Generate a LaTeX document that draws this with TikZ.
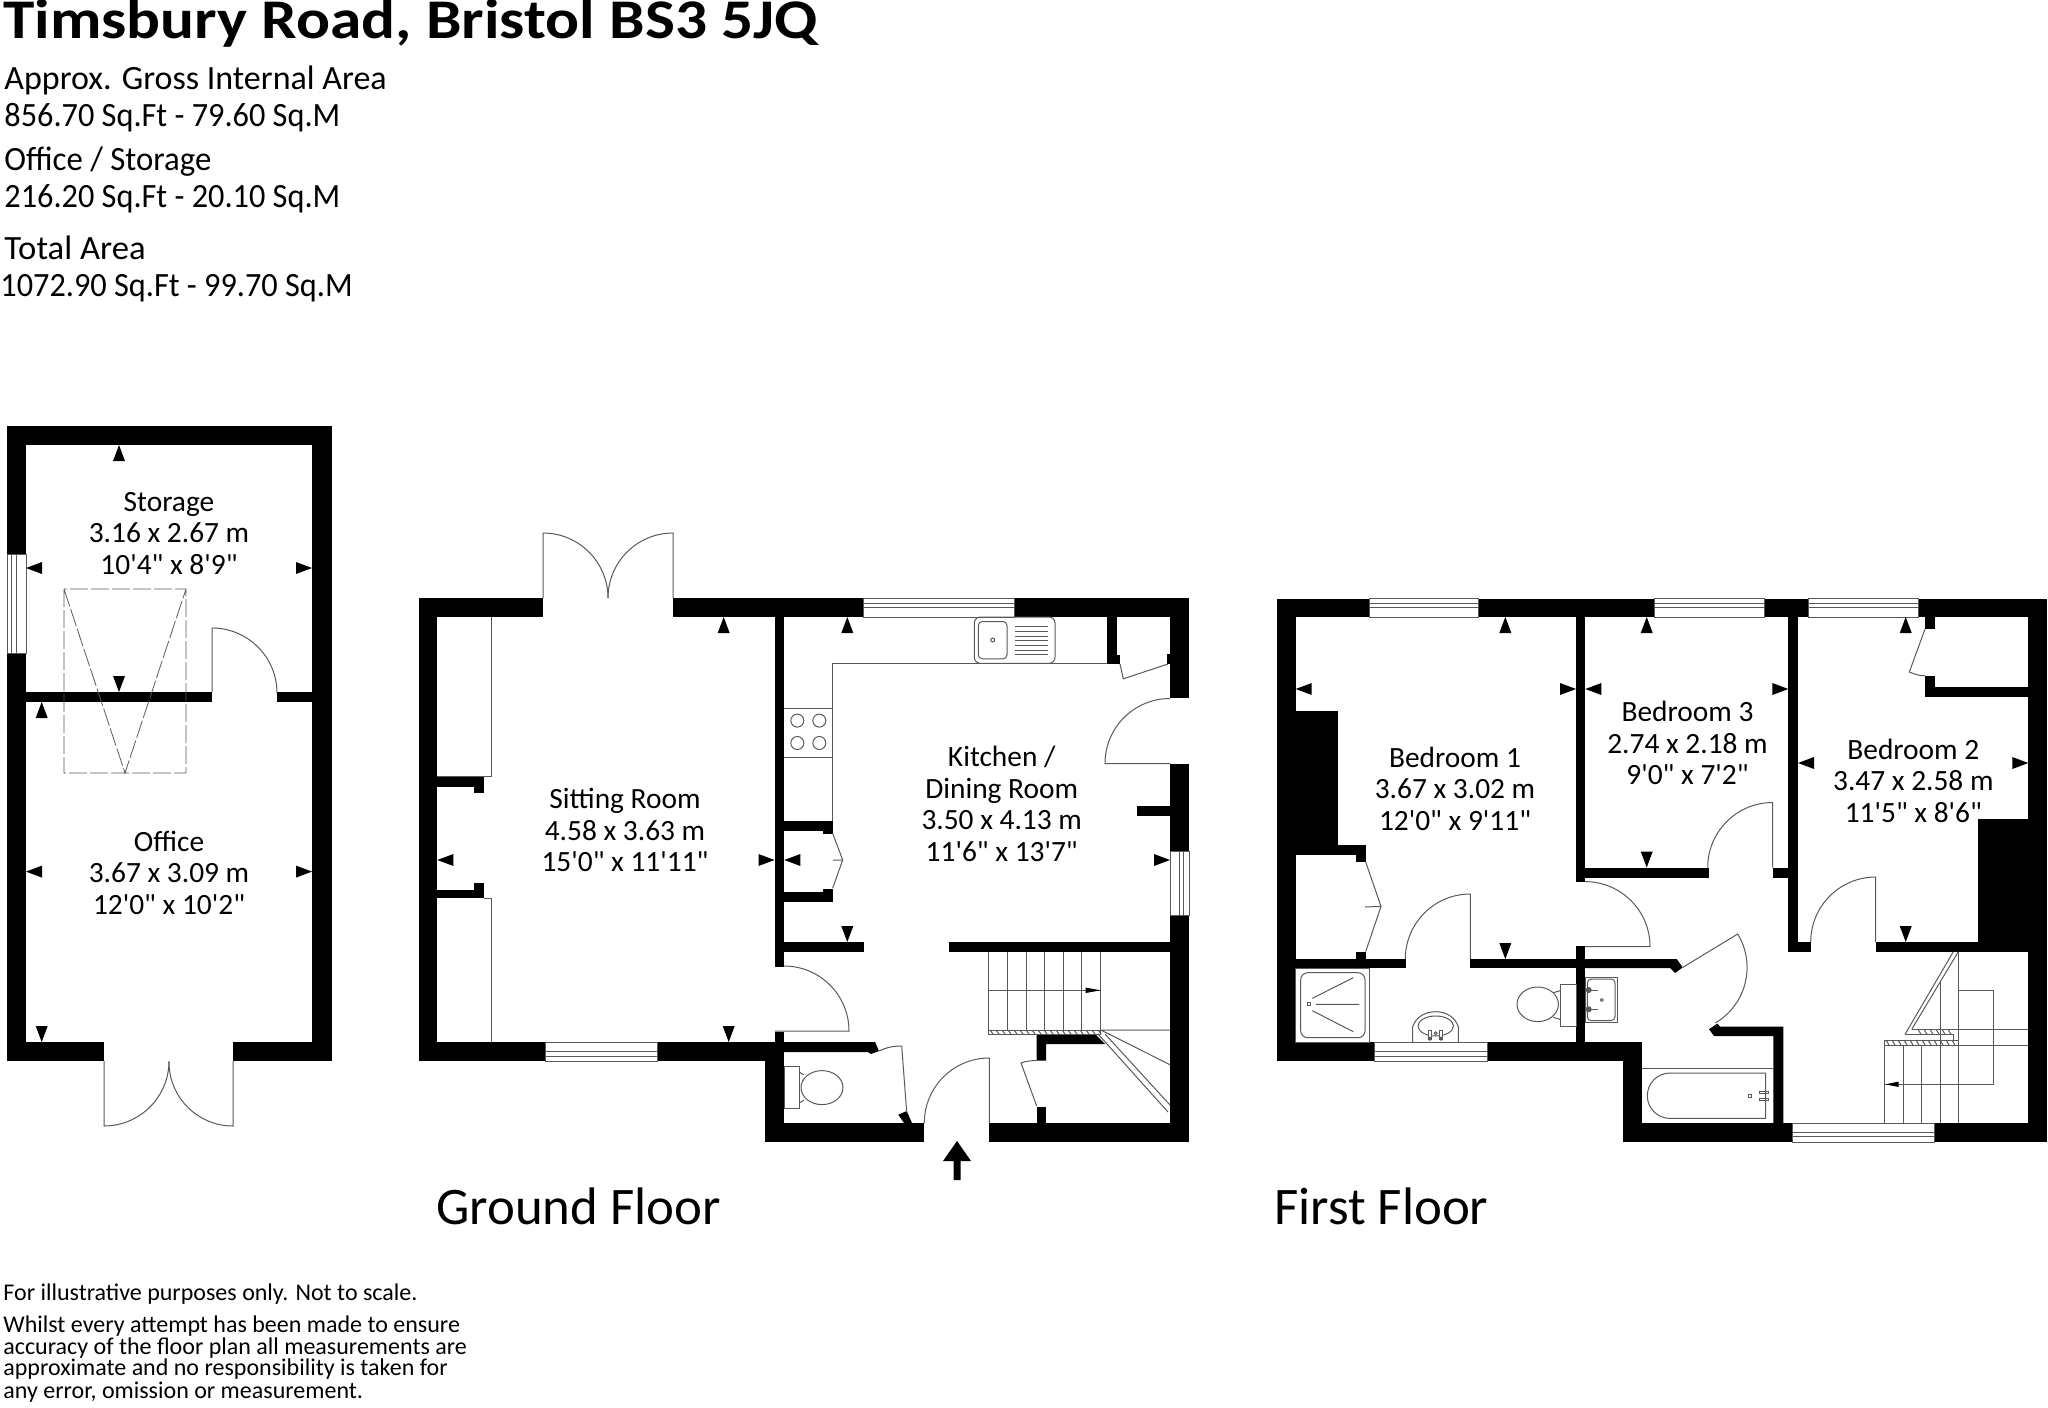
\documentclass[tikz,border=0pt]{standalone}
\usepackage{fontspec}
\setmainfont{Carlito}[Ligatures=TeXOff]
\definecolor{linegray}{gray}{0.35}
\tikzset{
  wall/.style={fill=black},
  fitting/.style={draw=linegray,line width=0.5pt},
  dim/.style={fill=black},
  roomlabel/.style={inner sep=0pt,align=center,font=\fontsize{14.7}{15.75}\selectfont},
  floorlabel/.style={inner sep=0pt,anchor=base west,font=\fontsize{26.4}{30}\selectfont},
  infolabel/.style={inner sep=0pt,anchor=base west,font=\fontsize{17}{20}\selectfont},
  notelabel/.style={inner sep=0pt,anchor=base west,font=\fontsize{12}{15}\selectfont}
}
\begin{document}
\begin{tikzpicture}[x=0.5pt,y=-0.5pt]
\useasboundingbox (0,0) rectangle (2048,1407);

% Heading
\node[inner sep=0pt,anchor=base west,font=\fontsize{28}{32}\selectfont\bfseries] (title) at (3,39) {\scalebox{1.13}[1]{Timsbury Road, Bristol BS3 5JQ}};
\node[infolabel] (grosshead) at (4,89.5) {Approx. Gross Internal Area};
\node[infolabel] (grossarea) at (4,126.5) {\scalebox{.95}[1]{856.70 Sq.Ft - 79.60 Sq.M}};
\node[infolabel] (officehead) at (4,170.5) {\scalebox{.965}[1]{Office / Storage}};
\node[infolabel] (officearea) at (4,207) {\scalebox{.95}[1]{216.20 Sq.Ft - 20.10 Sq.M}};
\node[infolabel] (totalhead) at (4,259) {\scalebox{1.02}[1]{Total Area}};
\node[infolabel] (totalarea) at (0,296) {\scalebox{.95}[1]{1072.90 Sq.Ft - 99.70 Sq.M}};

% Walls
\foreach \a/\b/\c/\d in {7/426/332/445,7/426/26/554.5,7/653.5/26/1061,312/426/332/1061,26/692/212/702,277/692/312/702,7/1042/104/1061,233/1042/332/1061,
  418.7/598/543/617,673.3/598/863.7/617,1014.7/598/1189.3/617,418.7/598/437.3/1061,418.7/1042/545/1061,657.3/1042/784.3/1061,
  774.5/617/784.3/966.7,774.5/1031.5/784.3/1062,765/1052/784.3/1142.4,765/1123/924/1142.4,989.3/1123/1189.3/1142.4,
  1170/598/1189.3/698.4,1170/763.5/1189.3/851,1170/915/1189.3/1142.4,
  784/821/832.7/831,823/831/832.7/833.5,784/891.5/832.7/902,823/889/832.7/891.5,784/942/864.3/952,949/942/1170/952,
  1137.3/805.7/1170/815.7,1107.3/617/1117.3/664,1117.3/655/1120/664,1166.7/653.6/1170/664,1036.7/1107/1046/1123,
  437/776.3/484.3/786.7,474/786.7/484.3/792.7,474/882.7/484.3/890,437/890/484.3/898.4,
  1276.7/598.5/1369/617,1478.3/598.5/1654/617,1764.7/598.5/1808.7/617,1918.7/598.5/2047.3/617,
  1276.7/598.5/1295.7/1061,1276.7/1042/1374.3/1061,1487.3/1042/1642/1061,1623.3/1042/1642/1142.4,
  1623.3/1123/1792.3/1142.4,1934.3/1123/2047.3/1142.4,2028.3/598.5/2047.3/1142.4,
  1295.7/711.4/1337.7/845.3,1295.7/845.3/1365.7/854.6,1356/854.6/1365.7/862,1356/951.5/1365.7/959,
  1295/959/1405.7/968,1470.3/959/1585/968,1576/617/1585.3/881.6,1576/946.3/1585.3/1042,
  1585/867.5/1708.7/878,1772.7/867.5/1788.3/878,1788.3/617/1798/952,1788.3/942/1810.7/952,1875.7/942/2028/952,
  1978/819.4/2028.3/942,1925/617/1935/629,1925/675.8/1935/696.6,1935/687/2028/696.6}
  \fill[wall] (\a,\b) rectangle (\c,\d);
% angled wall ends
\fill[wall] (784,1042) -- (875,1042) -- (879,1051) -- (871,1054) -- (868,1052) -- (784,1052) -- cycle;
\fill[wall] (898.3,1114.7) -- (906.7,1111) -- (912,1123) -- (904,1123) -- cycle;
\fill[wall] (1036.7,1034) -- (1095,1034) -- (1105,1044) -- (1046,1044) -- (1046,1060.6) -- (1036.7,1060.6) -- cycle;
\fill[wall] (1585,959) -- (1676.7,959) -- (1682.7,967.4) -- (1675,973) -- (1670,968) -- (1585,968) -- cycle;
\fill[wall] (1717.3,1023.6) -- (1709,1029.2) -- (1714,1036) -- (1773.3,1036) -- (1773.3,1122.8) -- (1783.3,1122.8) -- (1783.3,1026.6) -- (1720,1026.6) -- cycle;

% Windows
\foreach \a/\c in {545/657.3,1374.3/1487.3}
  \draw[fitting] (\a,1042) rectangle (\c,1061) (\a,1051.5) -- (\c,1051.5) (\a,1056) -- (\c,1056);
\draw[fitting] (1792.3,1123) rectangle (1934.3,1142.4) (1792.3,1132) -- (1934.3,1132) (1792.3,1136.5) -- (1934.3,1136.5);
\foreach \a/\c in {863.7/1014.7,1369/1478.3,1654/1764.7,1808.7/1918.7}
  \draw[fitting] (\a,598.5) rectangle (\c,617) (\a,603.7) -- (\c,603.7) (\a,607.8) -- (\c,607.8);
\draw[fitting] (7.3,554.5) rectangle (26,653.5) (11.7,554.5) -- (11.7,653.5) (16,554.5) -- (16,653.5);
\draw[fitting] (1170,851) rectangle (1189.3,915) (1179,851) -- (1179,915) (1183,851) -- (1183,915);

% Doors
\draw[fitting] (212,692) -- (212,628) arc[start angle=-90,end angle=0,radius=65];
\draw[fitting] (104,1061) -- (104,1126) arc[start angle=90,end angle=0,radius=65];
\draw[fitting] (233,1061) -- (233,1126) arc[start angle=90,end angle=180,radius=64];
\draw[fitting] (543,598) -- (543,533) arc[start angle=-90,end angle=0,radius=65];
\draw[fitting] (673,598) -- (673,533) arc[start angle=-90,end angle=-180,radius=65];
\draw[fitting] (1170,763.5) -- (1105,763.5) arc[start angle=180,end angle=270,radius=65];
\draw[fitting] (784,966) arc[start angle=-90,end angle=0,radius=65] -- (775,1031);
\draw[fitting] (989.3,1123) -- (989.3,1058) arc[start angle=-90,end angle=-180,radius=65];
\draw[fitting] (1470.3,959) -- (1470.3,894) arc[start angle=-90,end angle=-180,radius=65];
\draw[fitting] (1585,881.6) arc[start angle=-90,end angle=0,radius=65] -- (1585,946.6);
\draw[fitting] (1772.7,867.5) -- (1772.7,802.5) arc[start angle=-90,end angle=-180,radius=65];
\draw[fitting] (1875.7,942) -- (1875.7,877) arc[start angle=-90,end angle=-180,radius=65];
\draw[fitting] (1682.7,967.4) -- (1737.7,934) arc[start angle=-31.3,end angle=59.4,radius=64.4];
\draw[fitting] (906.7,1112.4) -- (901.7,1046) .. controls (892,1046) and (885,1048) .. (879,1051);
\draw[fitting] (1036.7,1106) -- (1021,1063) .. controls (1026,1061) and (1031,1060.6) .. (1036.7,1060.6);
\draw[fitting] (1925,629) -- (1909.3,672) .. controls (1914,674) and (1919,675.8) .. (1925,675.8);
\draw[fitting] (832.7,833.5) -- (842.7,860) -- (832.7,888) (833,860) -- (842.7,860);
\draw[fitting] (1365.7,862) -- (1381,906.4) -- (1365.7,951.5) (1365,907) -- (1381,906.4);
\draw[fitting] (1120,664) -- (1123.3,678.8) -- (1168,664);

% Dimension marks
\foreach \x/\y in {119/445,41.7/702,723.7/617,847.3/617,1505.3/617,1646.7/617,1905.7/617}
  \fill[dim] (\x,\y) -- ++(-6,16) -- ++(12,0) -- cycle;
\foreach \x/\y in {119/692,41.7/1042,728.7/1042,847.3/942,1646.7/867.5,1505.3/959,1905.7/942}
  \fill[dim] (\x,\y) -- ++(-6,-16) -- ++(12,0) -- cycle;
\foreach \x/\y in {26/568,26/871.6,437.3/860,784.3/860,1295.7/689,1585.3/689,1798/763}
  \fill[dim] (\x,\y) -- ++(16,-6) -- ++(0,12) -- cycle;
\foreach \x/\y in {312/568,312/871.6,774.5/860,1170/860,1576/689,1788.3/689,2028.3/763}
  \fill[dim] (\x,\y) -- ++(-16,-6) -- ++(0,12) -- cycle;

% Roof hatch
\draw[fitting,line width=0.4pt,dash pattern=on 9pt off 1.5pt] (64,589) rectangle (186,773) (64,589) -- (125,773) -- (186,589);

% Sitting room units
\draw[fitting] (437,776.3) -- (491,776.3) -- (491,617);
\draw[fitting] (484,898.4) -- (491,898.4) -- (491,1042);

% Kitchen units
\draw[fitting] (832.7,821) -- (832.7,663.3) -- (1107.3,663.3);
\draw[fitting] (784,708.4) -- (832.7,708.4) (784,757) -- (832.7,757);
\foreach \x in {797.3,819.3}
  \foreach \y in {720.6,743}
    \draw[fitting] (\x,\y) circle (6.5);
\draw[fitting,rounded corners=3pt] (974.3,617) rectangle (1055,663.3);
\draw[fitting,rounded corners=2pt] (978.3,621.5) rectangle (1007,658.8);
\draw[fitting] (992.7,640) circle (2);
\foreach \y in {626,631.4,636,640.7,645.5,650,654.8}
  \draw[fitting] (1015,\y) -- (1048.3,\y);

% Ground floor stairs
\foreach \x in {988.3,1007.3,1026,1044.3,1063.3,1081.7,1100.7}
  \draw[fitting] (\x,952) -- (\x,1030);
\draw[fitting] (988.3,1030) rectangle (1100.7,1034);
\foreach \x in {990,996,...,1098}
  \draw[fitting] (\x,1030) -- (\x+3,1034);
\draw[fitting] (988.3,990.3) -- (1100.7,990.3);
\fill[dim] (1100.7,990.3) -- ++(-15,-2.7) -- ++(0,5.4) -- cycle;
\draw[fitting] (1100.7,1030) -- (1170,1030) (1100.7,1030) -- (1170,1064.7);
\draw[fitting] (1098,1034) -- (1168,1112) (1105,1034) -- (1170,1105);

% WC ground floor
\draw[fitting] (784,1066.6) rectangle (799.3,1108);
\draw[fitting] (822,1087.6) ellipse (21 and 17);
\draw[fitting] (799.3,1072) -- (804,1075) (799.3,1103) -- (804,1100);

% Shower
\draw[fitting] (1295.7,968) rectangle (1369.3,1042);
\draw[fitting,rounded corners=3.5pt] (1300.7,972.7) rectangle (1365,1037.7);
\draw[fitting] (1307.5,1002.8) rectangle (1310.5,1005.8);
\draw[fitting] (1312.3,998.3) -- (1353.3,977.7) (1316,1004.3) -- (1359,1004.3) (1312.3,1010.7) -- (1353.3,1031.7);

% Basin and WC first floor
\draw[fitting] (1412.7,1042.3) -- (1412.7,1026.7) .. controls (1416,1017) and (1425,1011.7) .. (1435.7,1011.7) .. controls (1446,1011.7) and (1455,1017) .. (1458.3,1026.7) -- (1458.3,1042.3);
\draw[fitting] (1435.7,1026) ellipse (17.7 and 10);
\foreach \x in {1429.7,1441}{
  \draw[fitting,fill=white] (\x-1.3,1030) rectangle (\x+1.3,1039);
  \fill[linegray] (\x,1038.7) circle (2);
}
\draw[fitting] (1435.7,1033.3) circle (1.5);
\draw[fitting] (1560,984) rectangle (1576,1026.7);
\draw[fitting] (1537.7,1004.3) ellipse (20.7 and 17.3);
\draw[fitting] (1560,990.7) -- (1553.3,992.7) (1560,1019.3) -- (1553.3,1017.3);
\draw[fitting] (1585.3,977.3) rectangle (1617.7,1022.7);
\draw[fitting,rounded corners=2pt] (1587.3,979) rectangle (1615,1020.7);
\foreach \y in {990,1009.3}{
  \draw[fitting] (1588.7,\y) -- (1598.3,\y);
  \fill[linegray] (1588.7,\y) circle (3);
}
\draw[fitting] (1601.7,1000) circle (1.5);

% Bath
\draw[fitting] (1642,1068.4) -- (1773.3,1068.4);
\draw[fitting] (1670,1073) -- (1765.7,1073) -- (1765.7,1118.4) -- (1670,1118.4) arc[start angle=90,end angle=270,radius=22.7];
\draw[fitting] (1748.5,1094.5) rectangle (1751.5,1097.5);
\foreach \y in {1092,1099.5}
  \draw[fitting] (1759.3,\y-1) rectangle (1768.3,\y+1);

% First floor stairs
\foreach \x in {1884.3,1903.3,1921.7}
  \draw[fitting] (\x,1045) -- (\x,1122.8);
\draw[fitting] (1940,981.7) -- (1940,1122.8) (1958.3,951.7) -- (1958.3,1122.8);
\draw[fitting] (1884.3,1040) rectangle (1958.3,1045);
\foreach \x in {1886,1892,...,1956}
  \draw[fitting] (\x,1040) -- (\x+3,1045);
\draw[fitting] (1911.7,1029.3) -- (2028.3,1029.3) (1958.3,1045) -- (2028.3,1045);
\draw[fitting] (1905,1034.3) -- (1953.3,1034.3) -- (1953.3,1040);
\foreach \x in {1918,1924,...,1952}
  \draw[fitting] (\x,1029.3) -- (\x+3,1034.3);
\draw[fitting] (1905,1034.3) -- (1953.3,951.7) (1911.7,1029.3) -- (1958.3,951.7);
\draw[fitting] (1958.3,990) -- (1993.3,990) -- (1993.3,1084.3) -- (1884.3,1084.3);
\fill[dim] (1885.5,1084.3) -- ++(13,-2.7) -- ++(0,5.4) -- cycle;

% Entrance arrow
\fill[black] (957,1141) -- (971,1161) -- (960.5,1161) -- (960.5,1180) -- (953.5,1180) -- (953.5,1161) -- (943,1161) -- cycle;

% Room labels
\node[roomlabel] (storage) at (169,533.5) {Storage\\3.16 x 2.67 m\\10'4" x 8'9"};
\node[roomlabel] (office) at (169,872.5) {Office\\3.67 x 3.09 m\\12'0" x 10'2"};
\node[roomlabel] (sitting) at (625,830) {Sitting Room\\4.58 x 3.63 m\\15'0" x 11'11"};
\node[roomlabel] (kitchen) at (1001.7,804) {Kitchen /\\Dining Room\\3.50 x 4.13 m\\11'6" x 13'7"};
\node[roomlabel] (bedone) at (1455,788.7) {Bedroom 1\\3.67 x 3.02 m\\12'0" x 9'11"};
\node[roomlabel] (bedthree) at (1687.5,743) {Bedroom 3\\2.74 x 2.18 m\\9'0" x 7'2"};
\node[roomlabel] (bedtwo) at (1913.3,780.6) {Bedroom 2\\3.47 x 2.58 m\\11'5" x 8'6"};

% Floor names
\node[floorlabel] (ground) at (436,1224.6) {Ground Floor};
\node[floorlabel] (first) at (1274,1224.6) {First Floor};

% Notes
\node[notelabel] (noteone) at (3,1300.7) {For illustrative purposes only. Not to scale.};
\node[notelabel] (notetwo) at (3,1332.7) {Whilst every attempt has been made to ensure};
\node[notelabel] (notethree) at (3,1354) {accuracy of the floor plan all measurements are};
\node[notelabel] (notefour) at (3,1375.7) {approximate and no responsibility is taken for};
\node[notelabel] (notefive) at (3,1398) {any error, omission or measurement.};
\end{tikzpicture}
\end{document}
